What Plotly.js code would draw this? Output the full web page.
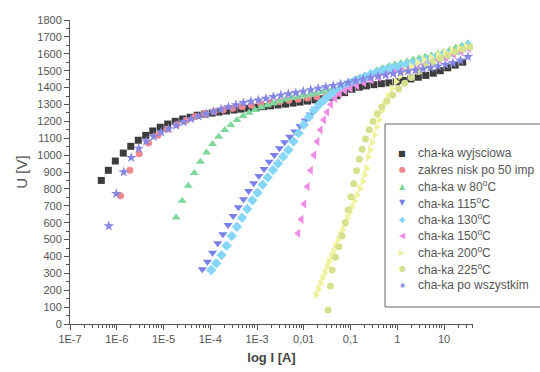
<!DOCTYPE html>
<html><head><meta charset="utf-8">
<script src="https://cdn.plot.ly/plotly-3.0.1.min.js"></script>
<style>html,body{margin:0;padding:0;background:#fff}#chart{width:540px;height:372px}</style>
</head><body><div id="chart"></div>
<script>
// x values are log10 of current I [A]; y values are U [V]
const names = ['cha-ka wyjsciowa','zakres nisk po 50 imp','cha-ka w 80<sup>o</sup>C','cha-ka 115<sup>o</sup>C','cha-ka 130<sup>o</sup>C','cha-ka 150<sup>o</sup>C','cha-ka 200<sup>o</sup>C','cha-ka 225<sup>o</sup>C','cha-ka po wszystkim'];

const blackX = [-6.33,-6.18,-6.03,-5.86,-5.70,-5.54,-5.38,-5.23,-5.07,-4.91,-4.75,-4.59,-4.43,-4.28,-4.12,-3.96,-3.81,-3.65,-3.49,-3.34,-3.18,-3.02,-2.86,-2.71,-2.55,-2.39,-2.23,-2.08,-1.92,-1.76,-1.60,-1.44,-1.29,-1.13,-0.97,-0.81,-0.66,-0.50,-0.34,-0.18,-0.02,0.13,0.29,0.45,0.61,0.77,0.92,1.08,1.24,1.40];
const blackU = [850,910,965,1012,1052,1088,1117,1143,1165,1184,1200,1214,1224,1236,1243,1249,1255,1261,1267,1272,1277,1282,1287,1292,1297,1302,1308,1314,1320,1327,1334,1342,1352,1370,1390,1402,1410,1417,1423,1428,1434,1442,1451,1461,1472,1485,1500,1517,1533,1550];

const redX = [-5.92,-5.72,-5.52,-5.32,-5.12,-4.92,-4.72,-4.52,-4.32,-4.12,-3.92,-3.72,-3.52,-3.32,-3.12,-2.92,-2.72,-2.52,-2.32,-2.12,-1.92,-1.72,-1.52,-1.32];
const redU = [760,910,1008,1071,1117,1153,1180,1205,1228,1245,1258,1268,1278,1288,1296,1304,1311,1318,1325,1331,1338,1345,1353,1362];

const greenX = [-4.73,-4.60,-4.47,-4.34,-4.21,-4.08,-3.95,-3.82,-3.69,-3.56,-3.43,-3.30,-3.17,-3.04,-2.91,-2.78,-2.65,-2.52,-2.39,-2.26,-2.13,-2.00,-1.87,-1.74,-1.61,-1.48,-1.35,-1.22,-1.09,-0.96,-0.83,-0.70,-0.57,-0.44,-0.31,-0.18,-0.05,0.08,0.21,0.34,0.47,0.60,0.73,0.86,0.99,1.12,1.25,1.38,1.51];
const greenU = [630,730,819,894,961,1016,1066,1109,1149,1178,1208,1232,1251,1267,1283,1295,1307,1319,1330,1339,1346,1352,1358,1365,1373,1382,1393,1405,1420,1437,1455,1472,1487,1502,1515,1526,1536,1545,1554,1564,1573,1582,1591,1601,1612,1623,1635,1648,1663];

const blueX = [-4.17,-4.06,-3.95,-3.84,-3.73,-3.62,-3.51,-3.40,-3.29,-3.18,-3.07,-2.96,-2.85,-2.74,-2.63,-2.52,-2.41,-2.30,-2.19,-2.08,-1.97,-1.86,-1.75,-1.64,-1.53,-1.42,-1.31,-1.20,-1.09,-0.98,-0.87,-0.76,-0.65,-0.54,-0.43,-0.32,-0.21,-0.10,0.01,0.12,0.23,0.34,0.45,0.56,0.67,0.78,0.89,1.00,1.11,1.22,1.33,1.44];
const blueU = [324,369,422,478,531,586,639,691,738,788,833,876,918,961,1001,1040,1076,1109,1140,1172,1205,1240,1275,1305,1330,1352,1372,1392,1408,1422,1436,1448,1460,1471,1482,1492,1500,1508,1515,1522,1529,1536,1543,1550,1558,1566,1574,1583,1593,1604,1616,1630];

const cyanX = [-3.98,-3.87,-3.76,-3.65,-3.54,-3.43,-3.32,-3.21,-3.10,-2.99,-2.88,-2.77,-2.66,-2.55,-2.44,-2.33,-2.22,-2.11,-2.00,-1.89,-1.78,-1.67,-1.56,-1.45,-1.34,-1.23,-1.12,-1.01,-0.90,-0.79,-0.68,-0.57,-0.46,-0.35,-0.24,-0.13,-0.02,0.09,0.20,0.31,0.42,0.53,0.64,0.75,0.86,0.97,1.08,1.19,1.30,1.41,1.52];
const cyanU = [320,359,408,463,521,576,629,681,732,777,825,868,912,951,991,1030,1080,1130,1180,1225,1265,1300,1328,1352,1372,1393,1410,1425,1440,1452,1464,1476,1488,1498,1506,1514,1521,1528,1535,1542,1549,1556,1564,1572,1580,1588,1597,1608,1620,1634,1650];

const pinkX = [-2.12,-2.05,-1.99,-1.92,-1.85,-1.78,-1.71,-1.64,-1.57,-1.50,-1.42,-1.33,-1.23,-1.12,-1.00,-0.86,-0.71,-0.55,-0.39,-0.23,-0.07,0.09,0.25,0.41,0.57,0.73,0.89,1.05,1.21,1.37,1.53];
const pinkU = [537,620,710,813,910,1000,1080,1150,1208,1255,1300,1335,1362,1382,1395,1410,1428,1445,1460,1474,1486,1497,1510,1523,1537,1551,1565,1580,1596,1613,1632];

const yellowX = [-1.74,-1.69,-1.64,-1.60,-1.55,-1.50,-1.46,-1.41,-1.37,-1.32,-1.27,-1.22,-1.17,-1.12,-1.07,-1.02,-0.97,-0.92,-0.86,-0.80,-0.74,-0.70,-0.66,-0.62,-0.58,-0.54,-0.49,-0.44,-0.39,-0.33,-0.27,-0.20,-0.12,-0.03,0.07,0.18,0.30,0.43,0.57,0.72,0.87,1.02,1.17,1.32,1.47];
const yellowU = [172,205,241,272,304,338,369,400,428,462,497,527,557,592,626,658,691,727,764,803,843,882,922,990,1030,1075,1120,1165,1210,1260,1305,1350,1395,1435,1470,1500,1525,1547,1565,1580,1594,1607,1620,1632,1642];

const ygX = [-1.48,-1.43,-1.39,-1.32,-1.25,-1.18,-1.11,-1.05,-0.99,-0.93,-0.87,-0.81,-0.75,-0.68,-0.60,-0.52,-0.43,-0.33,-0.22,-0.10,0.03,0.16,0.30,0.45,0.60,0.76,0.92,1.08,1.24,1.40,1.56];
const ygU = [83,225,320,395,458,523,600,675,754,830,908,975,1035,1095,1150,1200,1245,1285,1320,1356,1392,1425,1460,1495,1525,1550,1572,1592,1610,1627,1640];

const starX = [-6.17,-6.01,-5.85,-5.69,-5.53,-5.37,-5.21,-5.05,-4.89,-4.73,-4.57,-4.41,-4.25,-4.09,-3.93,-3.77,-3.61,-3.45,-3.29,-3.13,-2.97,-2.81,-2.65,-2.49,-2.33,-2.17,-2.01,-1.85,-1.69,-1.53,-1.37,-1.21,-1.05,-0.89,-0.73,-0.57,-0.41,-0.25,-0.09,0.07,0.23,0.39,0.55,0.71,0.87,1.03,1.19,1.35,1.51];
const starU = [580,772,900,985,1040,1082,1109,1135,1155,1176,1196,1214,1230,1245,1258,1272,1285,1297,1310,1318,1325,1335,1346,1355,1362,1369,1377,1386,1395,1403,1411,1420,1430,1440,1450,1459,1467,1475,1482,1490,1496,1502,1510,1518,1527,1536,1545,1560,1582];

const xTickVals = [1e-7,1e-6,1e-5,1e-4,1e-3,0.01,0.1,1,10];
const xTickText = ['1E-7','1E-6','1E-5','1E-4','1E-3','0,01','0,1','1','10'];

const seriesX = [blackX, redX, greenX, blueX, cyanX, pinkX, yellowX, ygX, starX];
const seriesU = [blackU, redU, greenU, blueU, cyanU, pinkU, yellowU, ygU, starU];
const symbols = ['square','circle','triangle-up','triangle-down','diamond','triangle-left','triangle-right','circle','star'];
const glyphs = ['■','●','▲','▼','◆','◀','▶','●','★'];
const colors = ['#3c3c3c','#f2898c','#7fd99c','#7b80e8','#86d6f7','#f08ce6','#f1f29e','#d6e18e','#8587e4'];
const sizes = [7,7,8,8,8,8,8,7,8];

const traces = seriesX.map((xs, i) => ({
  type: 'scatter', mode: 'markers', name: names[i], showlegend: false,
  x: xs.map(v => Math.pow(10, v)), y: seriesU[i],
  marker: {symbol: symbols[i], color: colors[i], size: sizes[i], line: {width: 0}}
}));

const minorVals = [];
for (let d = -7; d <= 1; d++) for (let m = 2; m <= 9; m++) { const v = m * Math.pow(10, d); if (v < 42) minorVals.push(v); }

const L = 70, R = 473, T = 20, B = 324;
const px = x => (x - L) / (R - L), py = y => (B - y) / (B - T);

const FAM = 'Liberation Sans, Arial, sans-serif';
const axFont = {family: FAM, size: 11, color: '#555'};

// legend drawn as annotations inside a framed box
const annotations = [];
names.forEach((n, i) => {
  const yy = 153 + i * 16.5;
  annotations.push({xref: 'paper', yref: 'paper', x: px(402), y: py(yy), xanchor: 'center', yanchor: 'middle',
    text: glyphs[i], showarrow: false, font: {family: 'DejaVu Sans', size: 8, color: colors[i]}});
  annotations.push({xref: 'paper', yref: 'paper', x: px(416), y: py(yy), xanchor: 'left', yanchor: 'middle',
    text: n, showarrow: false, font: {family: FAM, size: 12, color: '#555'}});
});

const layout = {
  width: 540, height: 372,
  margin: {l: L, r: 540 - R, t: T, b: 372 - B},
  paper_bgcolor: '#fff', plot_bgcolor: '#fff',
  showlegend: false,
  font: axFont,
  xaxis: {
    type: 'log', range: [-7, 1.62], tickmode: 'array', tickvals: xTickVals, ticktext: xTickText,
    ticks: 'outside', ticklen: 5, tickcolor: '#555', showline: true, linecolor: '#555', linewidth: 1,
    showgrid: false, zeroline: false, tickfont: axFont,
    minor: {tickmode: 'array', tickvals: minorVals, ticks: 'outside', ticklen: 3, tickcolor: '#555', showgrid: false},
    title: {text: '<b>log I [A]</b>', font: {family: FAM, size: 13, color: '#444'}, standoff: 8}
  },
  yaxis: {
    range: [0, 1800], dtick: 100, tick0: 0,
    ticks: 'outside', ticklen: 5, tickcolor: '#555', showline: true, linecolor: '#555', linewidth: 1,
    showgrid: false, zeroline: false, tickfont: axFont,
    minor: {dtick: 50, ticks: 'outside', ticklen: 3, tickcolor: '#555', showgrid: false},
    title: {text: 'U [V]', font: {family: FAM, size: 15, color: '#555'}, standoff: 6}
  },
  annotations: annotations,
  shapes: [{type: 'rect', xref: 'paper', yref: 'paper', x0: px(385), x1: px(548), y0: py(307), y1: py(124),
    line: {color: '#666', width: 1}, fillcolor: 'rgba(0,0,0,0)'}]
};

Plotly.newPlot('chart', traces, layout, {displayModeBar: false, staticPlot: true});
</script>
</body></html>
